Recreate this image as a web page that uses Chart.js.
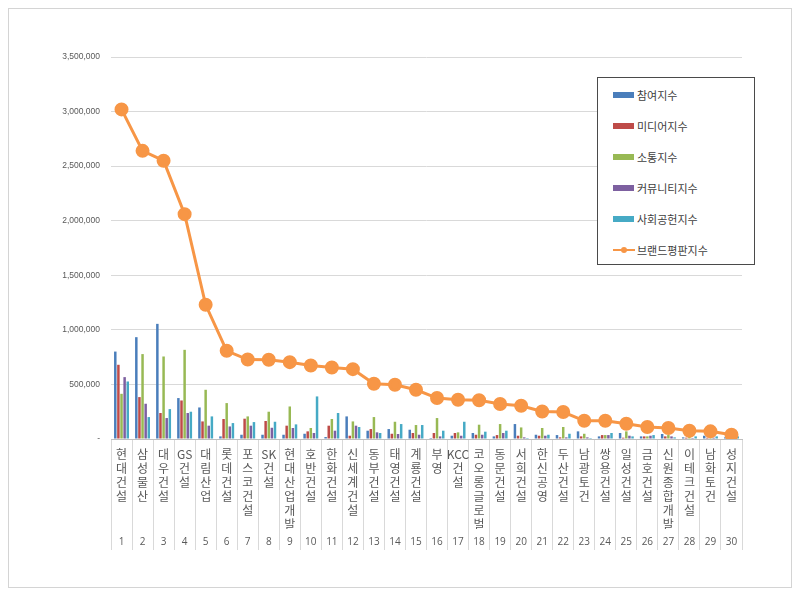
<!DOCTYPE html>
<html>
<head>
<meta charset="utf-8">
<script src="https://cdn.jsdelivr.net/npm/chart.js@4/dist/chart.umd.min.js"></script>
<style>
  html, body { margin: 0; padding: 0; background: #ffffff; }
  #frame { position: absolute; left: 8px; top: 8px; width: 782px; height: 578px; border: 1px solid #d4d4d4; }
  #chart { display: block; }
  #legend { position: absolute; left: 597px; top: 77px; width: 156px; height: 186px; border: 1px solid #4a4a4a; background: #fff;
            font-family: 'Noto Sans CJK KR', 'Noto Sans', sans-serif; font-size: 11px; color: #404040; }
  .item { position: absolute; left: 15px; height: 16px; line-height: 16px; white-space: nowrap; }
  .sw { position: absolute; left: 0; top: 5px; width: 21px; height: 6px; }
  .ln { position: absolute; left: 0; top: 7px; width: 22px; height: 2px; background: #F79646; }
  .dot { position: absolute; left: 8px; top: 5px; width: 6px; height: 6px; border-radius: 3px; background: #F79646; }
  .tx { position: absolute; left: 24px; top: 0; }
</style>
</head>
<body>
<div id="frame"><canvas id="chart"></canvas></div>
<div id="legend"></div>
<script>
// ---- data ----
const companies = ['현대건설','삼성물산','대우건설','GS건설','대림산업','롯데건설','포스코건설','SK건설','현대산업개발','호반건설',
  '한화건설','신세계건설','동부건설','태영건설','계룡건설','부영','KCC건설','코오롱글로벌','동문건설','서희건설',
  '한신공영','두산건설','남광토건','쌍용건설','일성건설','금호건설','신원종합개발','이테크건설','남화토건','성지건설'];
const ranks = ['1','2','3','4','5','6','7','8','9','10','11','12','13','14','15','16','17','18','19','20',
  '21','22','23','24','25','26','27','28','29','30'];
const seriesNames = ['참여지수','미디어지수','소통지수','커뮤니티지수','사회공헌지수','브랜드평판지수'];
const participation = [801000,933000,1055000,375000,289000,24000,39000,39000,39000,48000,18000,207000,76000,91000,85000,9000,30000,55000,24000,137000,39000,36000,70000,24000,55000,24000,46000,15000,30000,15000];
const media = [680000,384000,238000,353000,161000,183000,186000,165000,122000,70000,122000,30000,91000,48000,55000,55000,55000,39000,36000,30000,30000,15000,24000,36000,12000,24000,24000,12000,12000,9000];
const communication = [414000,778000,756000,817000,451000,329000,207000,250000,298000,101000,183000,161000,201000,158000,128000,192000,61000,131000,137000,106000,101000,110000,48000,36000,70000,24000,36000,24000,12000,9000];
const community = [567000,323000,192000,238000,122000,115000,122000,103000,101000,55000,76000,122000,61000,46000,39000,24000,30000,39000,55000,15000,30000,15000,15000,36000,30000,30000,24000,9000,12000,9000];
const socialContribution = [527000,201000,274000,250000,207000,146000,155000,158000,134000,390000,238000,110000,55000,137000,128000,76000,158000,67000,76000,9000,39000,48000,9000,55000,24000,36000,15000,24000,24000,24000];
const brandReputation = [3020000,2640000,2550000,2060000,1230000,808000,728000,726000,704000,673000,655000,640000,506000,497000,451000,375000,359000,355000,320000,305000,252000,247000,167000,167000,140000,110000,101000,76000,70000,39000];

// ---- style ----
const colors = ['#4A7EBB','#BE4B48','#98B954','#7D60A0','#46AAC5','#F79646'];

// vertical labels: one character (or latin group) per line
function verticalLabel(name) {
  const parts = name.match(/[A-Za-z]+|./g);
  return parts;
}
const nameLabels = companies.map(verticalLabel);

const barSeries = [participation, media, communication, community, socialContribution];
const datasets = barSeries.map((d, i) => ({
  type: 'bar', label: seriesNames[i], data: d, backgroundColor: colors[i], borderWidth: 0,
  categoryPercentage: 0.74, barPercentage: 0.8, order: 1
}));
datasets.push({
  type: 'line', label: seriesNames[5], data: brandReputation, borderColor: colors[5], backgroundColor: colors[5],
  borderWidth: 3, pointRadius: 5.5, pointHoverRadius: 5.5, pointBackgroundColor: colors[5], pointBorderColor: colors[5],
  tension: 0, order: 0
});

const ctx = document.getElementById('chart');
ctx.width = 782; ctx.height = 578;
new Chart(ctx, {
  data: { labels: nameLabels, datasets },
  options: {
    responsive: false,
    animation: false,
    layout: { padding: { left: 10, right: 49, top: 48, bottom: 36 } },
    plugins: { legend: { display: false }, tooltip: { enabled: false } },
    scales: {
      y: {
        min: 0, max: 3500000,
        ticks: { stepSize: 500000, padding: 11, color: '#595959',
          font: { family: "'Liberation Sans', sans-serif", size: 8.5 },
          callback: v => v === 0 ? '-' : v.toLocaleString('en-US') },
        grid: { color: '#d9d9d9', drawTicks: false, lineWidth: 1 },
        border: { display: false },
        afterFit: s => { s.width = 92; }
      },
      x: {
        type: 'category', position: 'bottom', offset: true,
        grid: { offset: true, drawOnChartArea: false, drawTicks: true, tickLength: 92, color: '#d9d9d9' },
        border: { display: true, color: '#bfbfbf' },
        ticks: { autoSkip: false, maxRotation: 0, minRotation: 0, padding: -84, color: '#595959',
          font: { family: "'Noto Sans CJK KR', sans-serif", size: 12, lineHeight: 1.17 } },
        afterFit: s => { s.height = 90; }
      },
      x2: {
        type: 'category', position: 'bottom', offset: true, labels: ranks,
        grid: { offset: true, drawOnChartArea: false, drawTicks: true, tickLength: 21, color: '#d9d9d9' },
        border: { display: false },
        ticks: { autoSkip: false, maxRotation: 0, minRotation: 0, padding: -14, color: '#595959',
          font: { family: "'Open Sans', sans-serif", size: 10, lineHeight: 1.2 } },
        afterFit: s => { s.height = 22; }
      }
    }
  }
});

// ---- legend (HTML, built from series names) ----
const legend = document.getElementById('legend');
const rowTops = [9, 40, 71, 102, 133, 164];
seriesNames.forEach((n, i) => {
  const it = document.createElement('div');
  it.className = 'item';
  it.style.top = rowTops[i] + 'px';
  if (i < 5) {
    it.innerHTML = '<span class="sw" style="background:' + colors[i] + '"></span><span class="tx">' + n + '</span>';
  } else {
    it.innerHTML = '<span class="ln"></span><span class="dot"></span><span class="tx">' + n + '</span>';
  }
  legend.appendChild(it);
});
</script>
</body>
</html>
